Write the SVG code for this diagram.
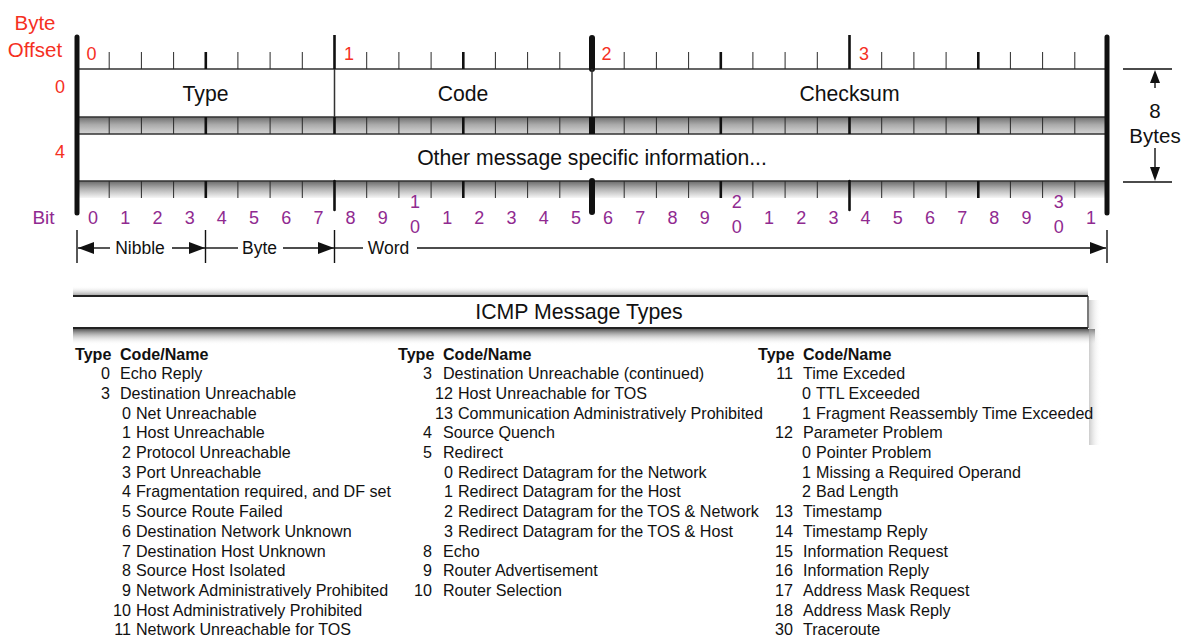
<svg xmlns="http://www.w3.org/2000/svg" width="1184" height="637" viewBox="0 0 1184 637">
<defs>
<linearGradient id="bandMid" x1="0" y1="0" x2="0" y2="1">
<stop offset="0" stop-color="#6e6e6e"/><stop offset="0.45" stop-color="#aaaaaa"/><stop offset="1" stop-color="#d6d6d6"/>
</linearGradient>
<linearGradient id="bandBot" x1="0" y1="0" x2="0" y2="1">
<stop offset="0" stop-color="#6a6a6a"/><stop offset="0.45" stop-color="#b0b0b0"/><stop offset="1" stop-color="#f6f6f6"/>
</linearGradient>
<linearGradient id="shadowDown" x1="0" y1="0" x2="0" y2="1">
<stop offset="0" stop-color="#444" stop-opacity="0.9"/><stop offset="1" stop-color="#fff" stop-opacity="0"/>
</linearGradient>
<linearGradient id="shadowUp" x1="0" y1="1" x2="0" y2="0">
<stop offset="0" stop-color="#777" stop-opacity="0.6"/><stop offset="1" stop-color="#fff" stop-opacity="0"/>
</linearGradient>
<linearGradient id="shadowRight" x1="0" y1="0" x2="1" y2="0">
<stop offset="0" stop-color="#aaa" stop-opacity="0.6"/><stop offset="1" stop-color="#fff" stop-opacity="0"/>
</linearGradient>
<marker id="ah" markerWidth="16" markerHeight="12" refX="16" refY="6" orient="auto" markerUnits="userSpaceOnUse">
<path d="M0,0 L16,6 L0,12 Z" fill="#111"/>
</marker>
</defs>
<style>
text{font-family:"Liberation Sans",Arial,Helvetica,sans-serif;fill:#111}
.red{fill:#f5301f}
.pur{fill:#902a90;font-size:18px;text-anchor:middle}
.off{font-size:18px}
.fld{font-size:21.2px;text-anchor:middle}
.dim{font-size:17.5px;text-anchor:middle}
.tb{font-size:16.1px}
.tbh{font-size:16.1px;font-weight:bold}
.r{text-anchor:end}
.thin{stroke:#2a2a2a;stroke-width:1;fill:none}
.mid{stroke:#111;stroke-width:2.6;fill:none}
.heavy{stroke:#111;stroke-width:6;stroke-linecap:round;fill:none}
.bar{stroke:#111;stroke-width:5;stroke-linecap:round;fill:none}
.bord{stroke:#333;stroke-width:1.5;fill:none}
.ln{stroke:#111;stroke-width:1.4;fill:none}
</style>

<rect width="1184" height="637" fill="#fff"/>

<g id="byte-offset-labels">
<text x="35" y="29.5" class="red" font-size="20.5" text-anchor="middle">Byte</text>
<text x="35" y="56.5" class="red" font-size="20.5" text-anchor="middle">Offset</text>
<text x="86.5" y="60" class="red off">0</text>
<text x="344" y="60" class="red off">1</text>
<text x="601.5" y="60" class="red off">2</text>
<text x="859" y="60" class="red off">3</text>
<text x="65" y="93" class="red off" text-anchor="end">0</text>
<text x="65" y="158" class="red off" text-anchor="end">4</text>
</g>

<g id="row-bands">
<rect x="77" y="69" width="1030" height="48" fill="#fff"/>
<rect x="77" y="117" width="1030" height="17" fill="url(#bandMid)"/>
<rect x="77" y="134" width="1030" height="47" fill="#fff"/>
<rect x="77" y="181" width="1030" height="17" fill="url(#bandBot)"/>
<path class="bord" d="M77 69H1107M77 117H1107M77 134H1107M77 181H1107"/>
</g>

<g id="ruler-ticks">
<path class="thin" d="M109.2 52V69M141.4 52V69M173.6 52V69M237.9 52V69M270.1 52V69M302.3 52V69M366.7 52V69M398.9 52V69M431.1 52V69M495.4 52V69M527.6 52V69M559.8 52V69M624.2 52V69M656.4 52V69M688.6 52V69M752.9 52V69M785.1 52V69M817.3 52V69M881.7 52V69M913.9 52V69M946.1 52V69M1010.4 52V69M1042.6 52V69M1074.8 52V69"/>
<path class="mid" d="M205.8 52V69M463.3 52V69M720.8 52V69M978.3 52V69M334.5 35V69M849.5 35V69"/>
<path class="heavy" d="M592 38V69"/>
<path class="thin" d="M109.2 117V134M141.4 117V134M173.6 117V134M237.9 117V134M270.1 117V134M302.3 117V134M366.7 117V134M398.9 117V134M431.1 117V134M495.4 117V134M527.6 117V134M559.8 117V134M624.2 117V134M656.4 117V134M688.6 117V134M752.9 117V134M785.1 117V134M817.3 117V134M881.7 117V134M913.9 117V134M946.1 117V134M1010.4 117V134M1042.6 117V134M1074.8 117V134"/>
<path class="mid" d="M205.8 117V134M463.3 117V134M720.8 117V134M978.3 117V134M334.5 117V134M849.5 117V134"/>
<path stroke="#111" stroke-width="6" d="M592 117V134"/>
<path class="thin" d="M109.2 181V198M141.4 181V198M173.6 181V198M237.9 181V198M270.1 181V198M302.3 181V198M366.7 181V198M398.9 181V198M431.1 181V198M495.4 181V198M527.6 181V198M559.8 181V198M624.2 181V198M656.4 181V198M688.6 181V198M752.9 181V198M785.1 181V198M817.3 181V198M881.7 181V198M913.9 181V198M946.1 181V198M1010.4 181V198M1042.6 181V198M1074.8 181V198"/>
<path class="mid" d="M205.8 181V198M463.3 181V198M720.8 181V198M978.3 181V198"/>
<path class="mid" stroke-linecap="round" d="M334.5 181V210M849.5 181V210"/>
<path class="heavy" d="M592 181V212"/>
<path class="bord" d="M334.5 69V117M592 69V117"/>
<path class="bar" d="M77 37V213M1107 37V213"/>
</g>

<g id="field-type"><text x="205.5" y="100.5" class="fld">Type</text></g>
<g id="field-code"><text x="463" y="100.5" class="fld">Code</text></g>
<g id="field-checksum"><text x="849.5" y="100.5" class="fld">Checksum</text></g>
<g id="field-other"><text x="592" y="165" class="fld">Other message specific information...</text></g>

<g id="size-8-bytes">
<path class="ln" d="M1123 69H1172M1123 182H1172M1155 80V88M1155 148V167"/>
<path d="M1155 70L1150 83L1160 83Z" fill="#111"/>
<path d="M1155 181L1150 167L1160 167Z" fill="#111"/>
<text x="1155" y="118" font-size="20.5" text-anchor="middle">8</text>
<text x="1155" y="143" font-size="20.5" text-anchor="middle">Bytes</text>
</g>

<g id="bit-numbers">
<text x="43.5" y="223.5" font-size="19" style="fill:#902a90" text-anchor="middle">Bit</text>
<text class="pur" x="93.1" y="224">0</text>
<text class="pur" x="125.3" y="224">1</text>
<text class="pur" x="157.5" y="224">2</text>
<text class="pur" x="189.7" y="224">3</text>
<text class="pur" x="221.8" y="224">4</text>
<text class="pur" x="254" y="224">5</text>
<text class="pur" x="286.2" y="224">6</text>
<text class="pur" x="318.4" y="224">7</text>
<text class="pur" x="350.6" y="224">8</text>
<text class="pur" x="382.8" y="224">9</text>
<text class="pur" x="415" y="207.5">1</text>
<text class="pur" x="415" y="233">0</text>
<text class="pur" x="447.2" y="224">1</text>
<text class="pur" x="479.3" y="224">2</text>
<text class="pur" x="511.5" y="224">3</text>
<text class="pur" x="543.7" y="224">4</text>
<text class="pur" x="575.9" y="224">5</text>
<text class="pur" x="608.1" y="224">6</text>
<text class="pur" x="640.3" y="224">7</text>
<text class="pur" x="672.5" y="224">8</text>
<text class="pur" x="704.7" y="224">9</text>
<text class="pur" x="736.8" y="207.5">2</text>
<text class="pur" x="736.8" y="233">0</text>
<text class="pur" x="769" y="224">1</text>
<text class="pur" x="801.2" y="224">2</text>
<text class="pur" x="833.4" y="224">3</text>
<text class="pur" x="865.6" y="224">4</text>
<text class="pur" x="897.8" y="224">5</text>
<text class="pur" x="930" y="224">6</text>
<text class="pur" x="962.2" y="224">7</text>
<text class="pur" x="994.3" y="224">8</text>
<text class="pur" x="1026.5" y="224">9</text>
<text class="pur" x="1058.7" y="207.5">3</text>
<text class="pur" x="1058.7" y="233">0</text>
<text class="pur" x="1090.9" y="224">1</text>
</g>

<g id="connectors">
<path class="ln" d="M77 230V263M205.5 230V263M334.5 230V263M1107 230V263"/>
<path class="ln" d="M110 248H78" marker-end="url(#ah)"/>
<path class="ln" d="M172 248H205" marker-end="url(#ah)"/>
<path class="ln" d="M206 248H238"/>
<path class="ln" d="M283 248H334" marker-end="url(#ah)"/>
<path class="ln" d="M335 248H363"/>
<path class="ln" d="M417 248H1106" marker-end="url(#ah)"/>
</g>
<g id="dim-labels">
<text x="140" y="254" class="dim">Nibble</text>
<text x="259.5" y="254" class="dim">Byte</text>
<text x="388.5" y="254" class="dim">Word</text>
</g>

<g id="icmp-title">
<rect x="73" y="286" width="1015" height="9" fill="url(#shadowUp)"/>
<rect x="73" y="329" width="1022" height="16" fill="url(#shadowDown)"/>
<rect x="1089" y="300" width="12" height="145" fill="url(#shadowRight)"/>
<rect x="73" y="296" width="1015" height="32" fill="#fff"/>
<path stroke="#222" stroke-width="2" fill="none" d="M73 296H1088M73 328H1088"/>
<path stroke="#333" stroke-width="1.3" fill="none" d="M1088 296V328"/>
<text x="579" y="319" font-size="21.3" text-anchor="middle">ICMP Message Types</text>
</g>

<g id="table-col1">
<text x="75" y="359.5" class="tbh">Type</text><text x="120" y="359.5" class="tbh">Code/Name</text>
<text x="110" y="379.2" class="tb r">0</text><text x="120" y="379.2" class="tb">Echo Reply</text>
<text x="110" y="398.9" class="tb r">3</text><text x="120" y="398.9" class="tb">Destination Unreachable</text>
<text x="131" y="418.6" class="tb r">0</text><text x="136" y="418.6" class="tb">Net Unreachable</text>
<text x="131" y="438.3" class="tb r">1</text><text x="136" y="438.3" class="tb">Host Unreachable</text>
<text x="131" y="458" class="tb r">2</text><text x="136" y="458" class="tb">Protocol Unreachable</text>
<text x="131" y="477.7" class="tb r">3</text><text x="136" y="477.7" class="tb">Port Unreachable</text>
<text x="131" y="497.4" class="tb r">4</text><text x="136" y="497.4" class="tb">Fragmentation required, and DF set</text>
<text x="131" y="517.1" class="tb r">5</text><text x="136" y="517.1" class="tb">Source Route Failed</text>
<text x="131" y="536.8" class="tb r">6</text><text x="136" y="536.8" class="tb">Destination Network Unknown</text>
<text x="131" y="556.5" class="tb r">7</text><text x="136" y="556.5" class="tb">Destination Host Unknown</text>
<text x="131" y="576.2" class="tb r">8</text><text x="136" y="576.2" class="tb">Source Host Isolated</text>
<text x="131" y="595.9" class="tb r">9</text><text x="136" y="595.9" class="tb">Network Administratively Prohibited</text>
<text x="131" y="615.6" class="tb r">10</text><text x="136" y="615.6" class="tb">Host Administratively Prohibited</text>
<text x="131" y="635.3" class="tb r">11</text><text x="136" y="635.3" class="tb">Network Unreachable for TOS</text>
</g>

<g id="table-col2">
<text x="398" y="359.5" class="tbh">Type</text><text x="443" y="359.5" class="tbh">Code/Name</text>
<text x="432" y="379.2" class="tb r">3</text><text x="443" y="379.2" class="tb">Destination Unreachable (continued)</text>
<text x="453" y="398.9" class="tb r">12</text><text x="458" y="398.9" class="tb">Host Unreachable for TOS</text>
<text x="453" y="418.6" class="tb r">13</text><text x="458" y="418.6" class="tb">Communication Administratively Prohibited</text>
<text x="432" y="438.3" class="tb r">4</text><text x="443" y="438.3" class="tb">Source Quench</text>
<text x="432" y="458" class="tb r">5</text><text x="443" y="458" class="tb">Redirect</text>
<text x="453" y="477.7" class="tb r">0</text><text x="458" y="477.7" class="tb">Redirect Datagram for the Network</text>
<text x="453" y="497.4" class="tb r">1</text><text x="458" y="497.4" class="tb">Redirect Datagram for the Host</text>
<text x="453" y="517.1" class="tb r">2</text><text x="458" y="517.1" class="tb">Redirect Datagram for the TOS &amp; Network</text>
<text x="453" y="536.8" class="tb r">3</text><text x="458" y="536.8" class="tb">Redirect Datagram for the TOS &amp; Host</text>
<text x="432" y="556.5" class="tb r">8</text><text x="443" y="556.5" class="tb">Echo</text>
<text x="432" y="576.2" class="tb r">9</text><text x="443" y="576.2" class="tb">Router Advertisement</text>
<text x="432" y="595.9" class="tb r">10</text><text x="443" y="595.9" class="tb">Router Selection</text>
</g>

<g id="table-col3">
<text x="758" y="359.5" class="tbh">Type</text><text x="803" y="359.5" class="tbh">Code/Name</text>
<text x="793" y="379.2" class="tb r">11</text><text x="803" y="379.2" class="tb">Time Exceded</text>
<text x="811" y="398.9" class="tb r">0</text><text x="816" y="398.9" class="tb">TTL Exceeded</text>
<text x="811" y="418.6" class="tb r">1</text><text x="816" y="418.6" class="tb">Fragment Reassembly Time Exceeded</text>
<text x="793" y="438.3" class="tb r">12</text><text x="803" y="438.3" class="tb">Parameter Problem</text>
<text x="811" y="458" class="tb r">0</text><text x="816" y="458" class="tb">Pointer Problem</text>
<text x="811" y="477.7" class="tb r">1</text><text x="816" y="477.7" class="tb">Missing a Required Operand</text>
<text x="811" y="497.4" class="tb r">2</text><text x="816" y="497.4" class="tb">Bad Length</text>
<text x="793" y="517.1" class="tb r">13</text><text x="803" y="517.1" class="tb">Timestamp</text>
<text x="793" y="536.8" class="tb r">14</text><text x="803" y="536.8" class="tb">Timestamp Reply</text>
<text x="793" y="556.5" class="tb r">15</text><text x="803" y="556.5" class="tb">Information Request</text>
<text x="793" y="576.2" class="tb r">16</text><text x="803" y="576.2" class="tb">Information Reply</text>
<text x="793" y="595.9" class="tb r">17</text><text x="803" y="595.9" class="tb">Address Mask Request</text>
<text x="793" y="615.6" class="tb r">18</text><text x="803" y="615.6" class="tb">Address Mask Reply</text>
<text x="793" y="635.3" class="tb r">30</text><text x="803" y="635.3" class="tb">Traceroute</text>
</g>
</svg>
